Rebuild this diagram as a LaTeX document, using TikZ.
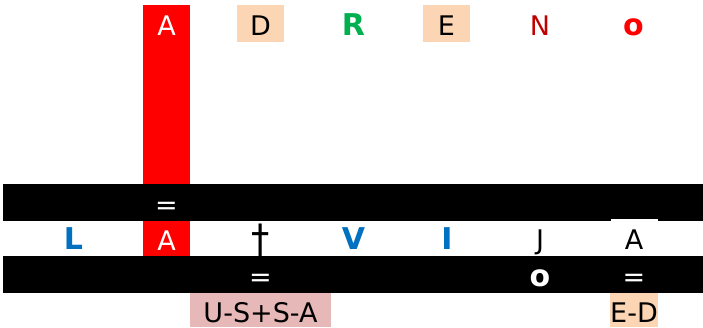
\documentclass[tikz,border=0pt]{standalone}
\usepackage{fontspec}
\setmainfont{DejaVu Sans}
\definecolor{blueL}{HTML}{0070C0}
\definecolor{greenR}{HTML}{00B050}
\definecolor{darkred}{HTML}{C00000}
\definecolor{peach}{HTML}{FCD5B4}
\definecolor{pinkbox}{HTML}{E6B8B7}
\begin{document}
\begin{tikzpicture}[x=1bp,y=-1bp,
  cell/.style={inner sep=0pt, minimum width=47bp, minimum height=35bp,
    text height=26bp, text depth=2bp, font=\fontsize{27bp}{30bp}\selectfont},
  bar/.style={fill=black, inner sep=0pt, minimum width=700bp, minimum height=37bp},
  bld/.style={font=\fontsize{30bp}{33bp}\selectfont\bfseries}
]
\useasboundingbox (0,0) rectangle (703,327);
% red column
\node[fill=red, inner sep=0pt, minimum width=47bp, minimum height=179bp] (redcol) at (166.5,94.5) {};
% bars
\node[bar] (bar1) at (353,202.5) {};
\node[bar] (bar2) at (353,274.5) {};
% top row
\node[cell, text=white] (t1) at (166.5,23.5) {A};
\node[cell, fill=peach, minimum height=37bp] (t2) at (260.5,23.5) {D};
\node[cell, bld, text=greenR] (t3) at (353.5,23.5) {R};
\node[cell, fill=peach, minimum height=37bp] (t4) at (446.5,23.5) {E};
\node[cell, text=darkred] (t5) at (540,23.5) {N};
\node[cell, bld, text=red] (t6) at (633.5,23.5) {o};
% bar 1
\node[cell, text=white] (b1) at (166.5,202.5) {=};
% middle row
\node[cell, bld, text=blueL] (m0) at (73.5,237.5) {L};
\node[cell, fill=red, text=white, minimum height=35bp] (m1) at (166.5,238.5) {A};
\node[inner sep=0pt, font=\fontsize{27bp}{30bp}\selectfont] (m2) at (260.5,241) {\scalebox{1.35}[1.55]{†}};
\node[cell, bld, text=blueL] (m3) at (353.5,237.5) {V};
\node[cell, bld, text=blueL] (m4) at (447,237.5) {I};
\node[cell] (m5) at (540,237.5) {J};
\node[cell, fill=white, minimum height=37bp] (m6) at (634,237.5) {A};
% bar 2
\node[cell, text=white] (b2) at (260.5,274.5) {=};
\node[cell, bld, text=white] (b3) at (540,274.5) {o};
\node[cell, text=white] (b4) at (634,274.5) {=};
% bottom row
\node[cell, fill=pinkbox, minimum width=141bp, minimum height=34bp] (u1) at (260.5,310) {U-S+S-A};
\node[cell, fill=peach, minimum width=48bp, minimum height=34bp] (u2) at (634,310) {E-D};
\end{tikzpicture}
\end{document}
